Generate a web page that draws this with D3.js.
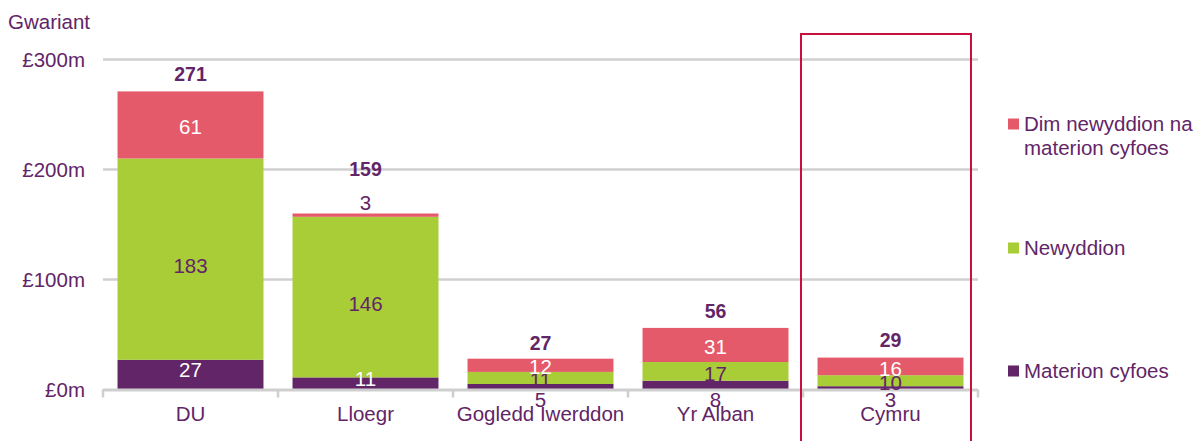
<!DOCTYPE html>
<html><head><meta charset="utf-8">
<script src="https://cdn.jsdelivr.net/npm/d3@7/dist/d3.min.js"></script>
<style>body{margin:0;background:#fff}svg{display:block}text{font-family:"Liberation Sans",Arial,sans-serif}</style>
</head><body><svg id="c" width="1198" height="441"></svg>
<script>
const categories = ["DU","Lloegr","Gogledd Iwerddon","Yr Alban","Cymru"];
const seriesNames = ["Materion cyfoes","Newyddion","Dim newyddion na materion cyfoes"];
const materion = [27,11,5,8,3];
const newyddion = [183,146,11,17,10];
const dim = [61,3,12,31,16];
const totals = [271,159,27,56,29];
const yTicks = [0,100,200,300];
const yTickLabels = ["£0m","£100m","£200m","£300m"];
const highlight = "Cymru";

const colors = ["#622567","#a8cd37","#e55a6a"];
const labelColors = ["#ffffff","#622567","#ffffff"];
const txt = "#622567";
const FS = 20.5;
const svg = d3.select("#c");
const x = d3.scaleBand().domain(categories).range([103,978]).paddingInner(0.166).paddingOuter(0.083);
const xb = d3.scaleBand().domain(categories).range([103,978]);
const y = d3.scaleLinear().domain([0,300]).range([389.5,59.5]);

// gridlines
svg.append("g").selectAll("line").data(yTicks.slice(1)).join("line")
  .attr("x1",103).attr("x2",978).attr("y1",d=>y(d)).attr("y2",d=>y(d))
  .attr("stroke","#d0d0d0").attr("stroke-width",2.5);
// y labels
svg.append("g").selectAll("text").data(yTicks).join("text")
  .attr("x",85).attr("y",d=>y(d)).attr("dy","0.35em").attr("text-anchor","end")
  .attr("font-size",FS).attr("fill",txt).text((d,i)=>yTickLabels[i]);
svg.append("text").attr("x",8).attr("y",22).attr("dy","0.35em").attr("font-size",FS).attr("fill",txt).text("Gwariant");

const data = categories.map((c,i)=>({cat:c, Materion:materion[i], Newyddion:newyddion[i], Dim:dim[i], total:totals[i]}));
const stack = d3.stack().keys(["Materion","Newyddion","Dim"])(data);

stack.forEach((s,si)=>{
  svg.append("g").selectAll("rect").data(s).join("rect")
    .attr("x",d=>x(d.data.cat)).attr("width",x.bandwidth())
    .attr("y",d=>y(d[1])).attr("height",d=>y(d[0])-y(d[1]))
    .attr("fill",colors[si]);
});

// axis baseline + ticks
svg.append("line").attr("x1",103).attr("x2",978).attr("y1",y(0)+0.5).attr("y2",y(0)+0.5).attr("stroke","#cfcfcf").attr("stroke-width",3);
svg.append("g").selectAll("line").data(categories.concat(["end"])).join("line")
  .attr("x1",(d,i)=>103+i*xb.bandwidth()).attr("x2",(d,i)=>103+i*xb.bandwidth())
  .attr("y1",y(0)).attr("y2",y(0)+8).attr("stroke","#cfcfcf").attr("stroke-width",2.5);
svg.append("g").selectAll("text").data(categories).join("text")
  .attr("x",d=>xb(d)+xb.bandwidth()/2).attr("y",414).attr("dy","0.35em").attr("text-anchor","middle")
  .attr("font-size",FS).attr("fill",txt).text(d=>d);

// segment labels
const topLabelY = {};
stack.forEach((s,si)=>{
  s.forEach(d=>{
    const v = d[1]-d[0];
    const cx = x(d.data.cat)+x.bandwidth()/2;
    let cy = (y(d[0])+y(d[1]))/2, col = labelColors[si];
    const h = y(d[0])-y(d[1]);
    if(si===0 && h<10){ cy = y(0)+10; col = txt; }
    else if(si===0){ cy -= 5; }
    else if(si===2 && h<6){ cy = y(d[1])-11; col = txt; topLabelY[d.data.cat]=cy; }
    else if(si===1 && h>100){ cy += 7; }
    else { cy += 2; }
    svg.append("text").attr("x",cx).attr("y",cy).attr("dy","0.35em").attr("text-anchor","middle")
      .attr("font-size",FS).attr("fill",col).text(v);
  });
});
// totals
svg.append("g").selectAll("text").data(data).join("text")
  .attr("x",d=>x(d.cat)+x.bandwidth()/2)
  .attr("y",d=> topLabelY[d.cat]!==undefined ? topLabelY[d.cat]-33 : y(d.total)-17)
  .attr("dy","0.35em").attr("text-anchor","middle").attr("font-size",19.5).attr("font-weight","bold")
  .attr("fill",txt).text(d=>d.total);

// highlight box
svg.append("rect").attr("x",xb(highlight)-2).attr("y",34).attr("width",xb.bandwidth()-5).attr("height",420)
  .attr("fill","none").attr("stroke","#c8103e").attr("stroke-width",2);

// legend
const legend = [
  {name:seriesNames[2], lines:["Dim newyddion na","materion cyfoes"], color:colors[2], y:124},
  {name:seriesNames[1], lines:["Newyddion"], color:colors[1], y:248},
  {name:seriesNames[0], lines:["Materion cyfoes"], color:colors[0], y:371}
];
const lg = svg.append("g").selectAll("g").data(legend).join("g");
lg.append("rect").attr("x",1008).attr("y",d=>d.y-5.5).attr("width",11).attr("height",11).attr("fill",d=>d.color);
lg.each(function(d){
  d3.select(this).selectAll("text").data(d.lines).join("text")
    .attr("x",1024).attr("y",(l,i)=>d.y+i*24).attr("dy","0.35em").attr("font-size",FS).attr("fill",txt).text(l=>l);
});
</script></body></html>
